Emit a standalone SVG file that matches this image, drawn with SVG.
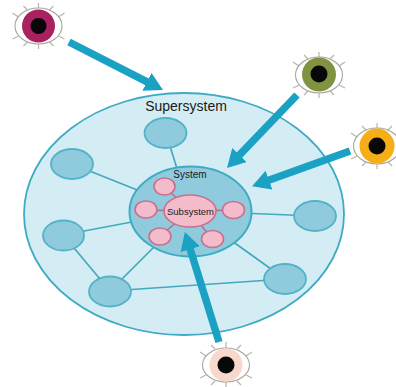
<svg xmlns="http://www.w3.org/2000/svg" width="396" height="387" viewBox="0 0 396 387">
<defs>
<marker id="ah" markerUnits="userSpaceOnUse" markerWidth="20" markerHeight="22" refX="4" refY="10" orient="auto"><path d="M0 0L18 10L0 20Z" fill="#1ba1c3"/></marker>
<path id="lashes" d="M0-23V-17M-15-20L-11-16M15-20L11-16M-26-13L-20-9M26-13L20-9M-26 13L-20 10M26 13L20 10M-15 20L-11 16M15 20L11 16M0 17V23"/>
</defs>
<style>
text{font-family:"Liberation Sans",Arial,sans-serif;fill:#1a1a1a;text-anchor:middle}
.link{stroke:#43a9bf;stroke-width:1.7;fill:none}
.plink{stroke:#b3708d;stroke-width:1.5;fill:none}
.blue{fill:#8fcbdc;stroke:#52b2c8;stroke-width:1.8}
.pink{fill:#f4bccb;stroke:#c5718f;stroke-width:1.6}
.arrow{stroke:#1ba1c3;stroke-width:7.500;fill:none;marker-end:url(#ah)}
.lash{stroke:#b9b5ac;stroke-width:1.2;fill:none}
.white{fill:#fff;stroke:#a9a59c;stroke-width:1.1}
</style>
<g id="supersystem"><ellipse cx="184" cy="214" rx="160" ry="121" fill="#d4edf5" stroke="#3eabc3" stroke-width="1.8"/><text x="186" y="111" font-size="14">Supersystem</text></g>
<g id="connectors">
<path class="link" d="M166 133L190 211M72 164L190 211M63 235L190 211M110 291L190 211M64 236L110 291M110 291L285 279M315 216L190 211M285 279L190 211"/>
</g>
<g id="node-top"><ellipse class="blue" cx="165.500" cy="133" rx="21" ry="15"/></g>
<g id="node-upper-left"><ellipse class="blue" cx="72" cy="164" rx="21" ry="15"/></g>
<g id="node-left"><ellipse class="blue" cx="63.500" cy="235.500" rx="20.500" ry="15"/></g>
<g id="node-bottom-left"><ellipse class="blue" cx="110" cy="291.500" rx="21" ry="15"/></g>
<g id="node-right"><ellipse class="blue" cx="315" cy="216" rx="21" ry="15"/></g>
<g id="node-bottom-right"><ellipse class="blue" cx="285" cy="279" rx="21" ry="15"/></g>
<g id="system"><ellipse cx="190.500" cy="211.500" rx="61" ry="45" fill="#8fcbdc" stroke="#3eabc3" stroke-width="2"/><text x="190" y="178" font-size="10">System</text></g>
<g id="inner-links"><path class="plink" d="M164 186L190 211M146 210L190 211M233 210L190 211M160 236L190 211M212 239L190 211"/></g>
<g id="sub-1"><ellipse class="pink" cx="164.500" cy="186.500" rx="10.500" ry="8.500"/></g>
<g id="sub-2"><ellipse class="pink" cx="146" cy="209.500" rx="11" ry="8.500"/></g>
<g id="sub-3"><ellipse class="pink" cx="233.500" cy="210" rx="11" ry="8.500"/></g>
<g id="sub-4"><ellipse class="pink" cx="160" cy="236.500" rx="11" ry="8.500"/></g>
<g id="sub-5"><ellipse class="pink" cx="212.500" cy="239" rx="11" ry="8.500"/></g>
<g id="subsystem"><ellipse class="pink" cx="190" cy="211" rx="26" ry="16"/><text x="190.500" y="214.500" font-size="9.500">Subsystem</text></g>
<g id="arrows">
<path class="arrow" d="M69 42L150.500 83.600"/>
<path class="arrow" d="M297 95L236.700 157.900"/>
<path class="arrow" d="M350 151L265.200 181.500"/>
<path class="arrow" d="M219 342L189 245.400"/>
</g>
<g id="eye-magenta"><g class="lash" transform="translate(38.500,26)"><use href="#lashes"/></g><ellipse class="white" cx="38.500" cy="26" rx="23.500" ry="18"/><circle cx="38.500" cy="26" r="16.500" fill="#a92160"/><circle cx="38.500" cy="26" r="8" fill="#0a0508"/></g>
<g id="eye-olive"><g class="lash" transform="translate(319,75)"><use href="#lashes"/></g><ellipse class="white" cx="319" cy="75" rx="23.500" ry="18"/><circle cx="319" cy="74.500" r="17" fill="#7f9340"/><circle cx="319" cy="74" r="8.500" fill="#080808"/></g>
<g id="eye-yellow"><g class="lash" transform="translate(377,146)"><use href="#lashes"/></g><ellipse class="white" cx="377" cy="146" rx="23.500" ry="18"/><circle cx="377" cy="146" r="17.500" fill="#f6ae17"/><circle cx="377" cy="146" r="8.500" fill="#080808"/></g>
<g id="eye-peach"><g class="lash" transform="translate(226,365)"><use href="#lashes"/></g><ellipse class="white" cx="226" cy="365" rx="23.500" ry="17"/><circle cx="226" cy="365" r="16.500" fill="#f8d8cc"/><circle cx="226" cy="365" r="8.500" fill="#080808"/></g>
</svg>
